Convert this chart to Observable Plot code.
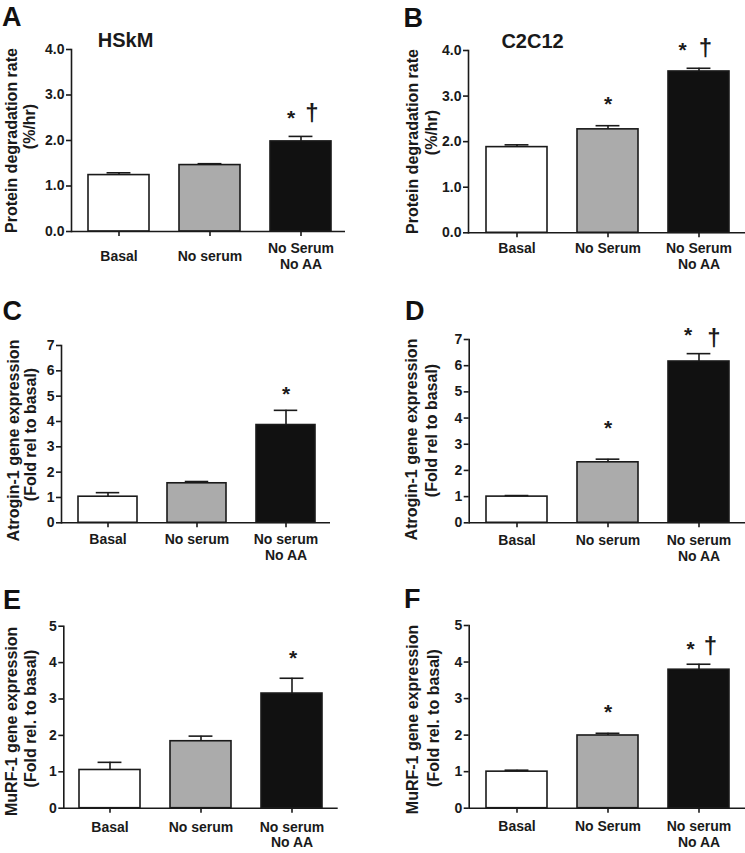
<!DOCTYPE html>
<html>
<head>
<meta charset="utf-8">
<script src="https://cdn.jsdelivr.net/npm/d3@7"></script>
<script src="https://cdn.jsdelivr.net/npm/@observablehq/plot@0.6"></script>
<style>
  html, body { margin: 0; padding: 0; background: #fff; }
  #fig { position: relative; width: 745px; height: 853px; overflow: hidden; background: #fff; }
</style>
</head>
<body>
<div id="fig"></div>
<script>
// ---------- data ----------
const groupsA = ["Basal", "No serum", "No Serum\nNo AA"];
const meansA  = [1.24, 1.46, 1.98];
const semsA   = [0.05, 0.03, 0.11];
const starsA  = ["", "", "*"];
const daggersA = ["", "", "†"];

const groupsB = ["Basal", "No Serum", "No Serum\nNo AA"];
const meansB  = [1.88, 2.27, 3.54];
const semsB   = [0.05, 0.08, 0.07];
const starsB  = ["", "*", "*"];
const daggersB = ["", "", "†"];

const groupsC = ["Basal", "No serum", "No serum\nNo AA"];
const meansC  = [1.03, 1.56, 3.86];
const semsC   = [0.16, 0.07, 0.58];
const starsC  = ["", "", "*"];
const daggersC = ["", "", ""];

const groupsD = ["Basal", "No serum", "No serum\nNo AA"];
const meansD  = [1.00, 2.31, 6.16];
const semsD   = [0.04, 0.12, 0.30];
const starsD  = ["", "*", "*"];
const daggersD = ["", "", "†"];

const groupsE = ["Basal", "No serum", "No serum\nNo AA"];
const meansE  = [1.05, 1.84, 3.15];
const semsE   = [0.21, 0.14, 0.42];
const starsE  = ["", "", "*"];
const daggersE = ["", "", ""];

const groupsF = ["Basal", "No Serum", "No serum\nNo AA"];
const meansF  = [1.00, 1.99, 3.79];
const semsF   = [0.04, 0.06, 0.15];
const starsF  = ["", "*", "*"];
const daggersF = ["", "", "†"];

const yTicksAB = [0, 1, 2, 3, 4];
const yTicksCD = [0, 1, 2, 3, 4, 5, 6, 7];
const yTicksEF = [0, 1, 2, 3, 4, 5];

const labelProtein = ["Protein degradation rate", "(%/hr)"];
const labelAtrogin = ["Atrogin-1 gene expression", "(Fold rel to basal)"];
const labelMurf    = ["MuRF-1 gene expression", "(Fold rel. to basal)"];

// ---------- styles ----------
const FONT = "'Liberation Sans', Arial, Helvetica, sans-serif";
const barFills = ["#ffffff", "#ababab", "#111111"];
const INK = "#1a1a1a";

// ---------- layout ----------
const panels = [
  {key:"A", groups:groupsA, means:meansA, sems:semsA, stars:starsA, daggers:daggersA,
   ticks:yTicksAB, fmt:d3.format(".1f"), label:labelProtein, title:"HSkM",
   left:0, top:0, w:372, h:280, ml:71, mt:49, mb:49, mr:27, xr:[87.3,331.7],
   xPad:19.5, xAnchor:"middle", letterX:1.5, letterY:6, titleX:125, titleY:32,
   lab1:[11, 140], lab2:[29.5, 126], starLift:[0,0,20.7], starDx:[0,0,-10], dagLift:27.7, dagDx:11},
  {key:"B", groups:groupsB, means:meansB, sems:semsB, stars:starsB, daggers:daggersB,
   ticks:yTicksAB, fmt:d3.format(".1f"), label:labelProtein, title:"C2C12",
   left:372, top:0, w:373, h:280, ml:96, mt:50, mb:47.7, mr:0, xr:[113.3,357.7],
   xPad:4.5, xAnchor:"top", letterX:31, letterY:7, titleX:160, titleY:33,
   lab1:[40.5, 141], lab2:[59.5, 132], starLift:[0,23.3,20.4], starDx:[0,0,-16.5], dagLift:24.7, dagDx:6.5},
  {key:"C", groups:groupsC, means:meansC, sems:semsC, stars:starsC, daggers:daggersC,
   ticks:yTicksCD, fmt:d3.format("d"), label:labelAtrogin, title:null,
   left:0, top:280, w:372, h:290, ml:61, mt:65, mb:47.7, mr:42, xr:[77.7,315.7],
   xPad:5.5, xAnchor:"top", letterX:2, letterY:20, titleX:0, titleY:0,
   lab1:[13, 160], lab2:[30.5, 154], starLift:[0,0,18.3], starDx:[0,0,0], dagLift:0, dagDx:0},
  {key:"D", groups:groupsD, means:meansD, sems:semsD, stars:starsD, daggers:daggersD,
   ticks:yTicksCD, fmt:d3.format("d"), label:labelAtrogin, title:null,
   left:372, top:280, w:373, h:290, ml:96.7, mt:59, mb:47.7, mr:0, xr:[113.3,358.3],
   xPad:6.4, xAnchor:"top", letterX:32.4, letterY:20, titleX:0, titleY:0,
   lab1:[39.5, 159], lab2:[59.5, 150], starLift:[0,33,20.7], starDx:[0,0,-10.8], dagLift:20, dagDx:14.8},
  {key:"E", groups:groupsE, means:meansE, sems:semsE, stars:starsE, daggers:daggersE,
   ticks:yTicksEF, fmt:d3.format("d"), label:labelMurf, title:null,
   left:0, top:570, w:372, h:283, ml:63.3, mt:55.7, mb:45.3, mr:34.3, xr:[78.3,322.7],
   xPad:7.5, xAnchor:"top", letterX:2.5, letterY:19, titleX:0, titleY:0,
   lab1:[11.5, 150.8], lab2:[30.5, 148], starLift:[0,0,22], starDx:[0,0,1], dagLift:0, dagDx:0},
  {key:"F", groups:groupsF, means:meansF, sems:semsF, stars:starsF, daggers:daggersF,
   ticks:yTicksEF, fmt:d3.format("d"), label:labelMurf, title:null,
   left:372, top:570, w:373, h:283, ml:96.7, mt:55, mb:45.3, mr:0, xr:[113.3,357.7],
   xPad:7, xAnchor:"top", letterX:31.4, letterY:18, titleX:0, titleY:0,
   lab1:[40, 149], lab2:[61, 147.5], starLift:[0,23,17.3], starDx:[0,0,-8.5], dagLift:22.3, dagDx:11.5}
];

const fig = document.getElementById("fig");

for (const p of panels) {
  const rows = p.groups.map((g, i) => ({
    group: g, mean: p.means[i], top: p.means[i] + p.sems[i],
    star: p.stars[i], dagger: p.daggers[i], fill: barFills[i], i
  }));
  const ymax = p.ticks[p.ticks.length - 1];
  const innerPad = 0.333;
  const step = (p.xr[1] - p.xr[0]) / (p.groups.length - innerPad);
  const bw = step * (1 - innerPad);
  const capW = 24;
  const capInset = (bw - capW) / 2;

  const marks = [
    Plot.barY(rows, {x: "group", y: "mean", fill: "fill", stroke: INK, strokeWidth: 1.6}),
    Plot.ruleX(rows, {x: "group", y1: "mean", y2: "top", stroke: INK, strokeWidth: 1.6}),
    Plot.tickY(rows, {x: "group", y: "top", stroke: INK, strokeWidth: 1.6,
                      insetLeft: capInset, insetRight: capInset}),
    Plot.ruleY([0], {stroke: INK, strokeWidth: 1.6}),
    Plot.frame({anchor: "left", stroke: INK, strokeWidth: 1.6}),
    Plot.axisY({ticks: p.ticks, tickFormat: p.fmt, tickSize: 5, tickPadding: 2,
                stroke: INK, strokeWidth: 1.6, fill: INK, fontSize: 14, fontWeight: "bold", label: null}),
    Plot.axisX({tickSize: 5, tickPadding: p.xPad, lineAnchor: p.xAnchor, lineHeight: 1.1,
                stroke: INK, strokeWidth: 1.6, fill: INK, fontSize: 14, fontWeight: "bold", label: null}),
    // significance markers
    ...rows.filter(d => d.star).map(d => Plot.text([d], {
      x: "group", y: "top", text: "star", fontSize: 21, fontWeight: "bold", fill: INK,
      lineAnchor: "middle", dx: p.starDx[d.i], dy: -p.starLift[d.i] + 2.2
    })),
    ...rows.filter(d => d.dagger).map(d => Plot.text([d], {
      x: "group", y: "top", text: "dagger", fontSize: 24, fontWeight: "bold", fill: INK,
      lineAnchor: "middle", dx: p.dagDx, dy: -p.dagLift + 4.6
    })),
    // y-axis label, two lines, rotated
    Plot.text([p.label[0]], {
      frameAnchor: "top-left", text: d => d, rotate: -90, fontSize: 16, fontWeight: "bold",
      fill: INK, lineAnchor: "middle", textAnchor: "middle",
      dx: p.lab1[0] - p.ml, dy: p.lab1[1] - p.mt
    }),
    Plot.text([p.label[1]], {
      frameAnchor: "top-left", text: d => d, rotate: -90, fontSize: 16, fontWeight: "bold",
      fill: INK, lineAnchor: "middle", textAnchor: "middle",
      dx: p.lab2[0] - p.ml, dy: p.lab2[1] - p.mt
    }),
    // panel letter
    Plot.text([p.key], {
      frameAnchor: "top-left", text: d => d, fontSize: 27, fontWeight: "bold", fill: "#111",
      textAnchor: "start", lineAnchor: "top", dx: p.letterX - p.ml, dy: p.letterY - p.mt
    })
  ];
  if (p.title) {
    marks.push(Plot.text([p.title], {
      frameAnchor: "top-left", text: d => d, fontSize: 20, fontWeight: "bold", fill: INK,
      textAnchor: "middle", lineAnchor: "top", dx: p.titleX - p.ml, dy: p.titleY - p.mt
    }));
  }

  const chart = Plot.plot({
    width: p.w, height: p.h,
    marginLeft: p.ml, marginRight: p.mr, marginTop: p.mt, marginBottom: p.mb,
    style: {fontFamily: FONT, fontWeight: "bold", fontSize: "14px", color: INK,
            background: "transparent", overflow: "visible"},
    x: {type: "band", domain: p.groups, range: p.xr, paddingInner: innerPad, paddingOuter: 0, label: null},
    y: {domain: [0, ymax], label: null},
    color: {type: "identity"},
    marks
  });
  chart.style.left = p.left + "px";
  chart.style.top = p.top + "px";
  chart.style.position = "absolute";
  fig.appendChild(chart);
}
</script>
</body>
</html>
